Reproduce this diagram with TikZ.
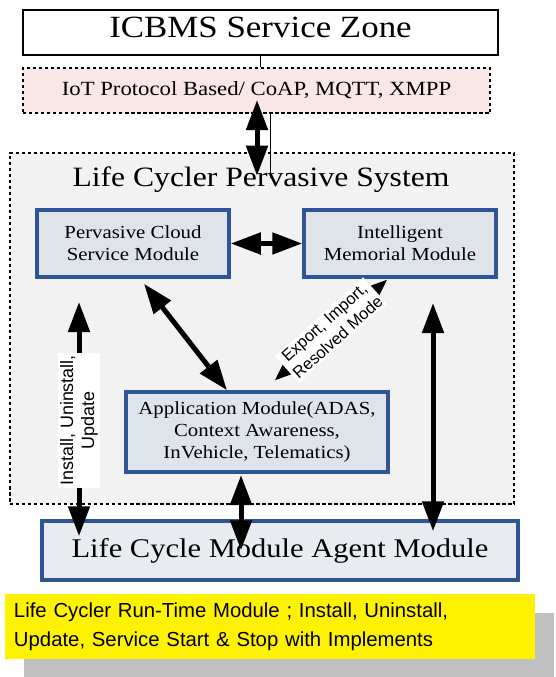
\documentclass[tikz,border=0pt]{standalone}
\usepackage{fontspec}
\setmainfont{Liberation Serif}[FakeStretch=1.13]
\newfontfamily\sans{Liberation Sans}
\usetikzlibrary{arrows.meta,shadows}

% Colori
\definecolor{bordoblu}{HTML}{2F5597}
\definecolor{fondomodulo}{HTML}{DFE4EB}
\definecolor{fondoagente}{HTML}{E8ECF1}
\definecolor{fondosistema}{HTML}{F2F2F2}
\definecolor{rosa}{HTML}{F9E6E6}
\definecolor{ombra}{HTML}{C0C0C0}

\begin{document}
\begin{tikzpicture}[x=1bp, y=-1bp]
	% Stili dei nodi e delle frecce
	\tikzset{
		tratteggio/.style={draw, line width=2.5bp, dash pattern=on 3.5bp off 2.5bp},
		modulo/.style={draw=bordoblu, line width=3.5bp, fill=fondomodulo, inner sep=0pt, align=center, font=\fontsize{18.5}{22}\selectfont},
		freccia/.style={{Triangle[length=30bp,width=21bp]}-{Triangle[length=30bp,width=21bp]}, line width=5bp},
		frecciapiccola/.style={{Triangle[length=18bp,width=14bp]}-{Triangle[length=18bp,width=14bp]}, line width=1.5bp},
		etichetta/.style={fill=white, inner sep=2bp, align=center},
		sottile/.style={line width=0.8bp}
	}
	\useasboundingbox (0,0) rectangle (556,677);
	
	% Zona dei servizi e protocolli
	\node[draw, line width=2.5bp, fill=white, minimum width=475bp, minimum height=45bp, text depth=10bp,
		font=\fontsize{31}{36}\selectfont] (icbms) at (260.5,32.5) {ICBMS Service Zone};
	\node[tratteggio, fill=rosa, minimum width=467bp, minimum height=45bp,
		font=\fontsize{20.2}{24}\selectfont] (iot) at (256.5,90.5) {IoT Protocol Based/ CoAP, MQTT, XMPP};
	
	% Sistema pervasivo
	\node[tratteggio, fill=fondosistema, minimum width=504bp, minimum height=351bp] (sys) at (262,328.5) {};
	\node[anchor=base, font=\fontsize{28.1}{32}\selectfont] (titolo) at (261,186) {Life Cycler Pervasive System};
	
	% Moduli
	\node[modulo, minimum width=192bp, minimum height=67bp] (pcsm) at (133,243.5) {Pervasive Cloud\\Service Module};
	\node[modulo, minimum width=192bp, minimum height=67bp] (imm) at (400,243.5) {Intelligent\\Memorial Module};
	\node[modulo, minimum width=262bp, minimum height=80bp] (app) at (257,432) {Application Module(ADAS,\\Context Awareness,\\InVehicle, Telematics)};
	\node[modulo, fill=fondoagente, minimum width=476bp, minimum height=59bp,
		font=\fontsize{27.1}{32}\selectfont] (lcm) at (280,550.5) {Life Cycle Module Agent Module};
	
	% Nota in basso con ombra
	\node[fill=yellow, drop shadow={shadow xshift=19bp, shadow yshift=-19bp, fill=ombra, opacity=1},
		minimum width=530bp, minimum height=65bp, text width=512bp, align=left, inner xsep=9bp,
		font=\sans\fontsize{20.4}{29}\selectfont] (nota) at (270,626.5)
		{Life Cycler Run-Time Module ; Install, Uninstall,\\Update, Service Start \& Stop with Implements};
	
	% Punti di partenza delle frecce verticali
	\coordinate (tx) at (257,100);
	\coordinate (lx) at (270,178);
	\coordinate (sx) at (79,302);
	\coordinate (cx) at (241,475);
	\coordinate (dx) at (433,303);
	
	% Collegamenti
	\draw[sottile] (icbms.south) -- (icbms.south |- iot.north);
	\draw[sottile] (lx |- iot.south) -- (lx);
	\draw[freccia, shorten >=-24bp] (tx) -- (tx |- sys.north);
	\draw[freccia] (pcsm) -- (imm);
	\draw[freccia] ([xshift=11bp,yshift=-5bp]pcsm.south) -- ([xshift=-30bp]app.north);
	\draw[frecciapiccola] ([xshift=18bp,yshift=10bp]app.north) --
		node[etichetta, sloped, font=\sans\fontsize{16.5}{20}\selectfont] {Export, Import,\\Resolved Mode}
		([xshift=-13bp,yshift=-1bp]imm.south);
	\draw[freccia, shorten >=-17bp] (sx) --
		node[etichetta, rotate=90, pos=0.545, font=\sans\fontsize{18}{21}\selectfont] {Install, Uninstall,\\Update}
		(sx |- lcm.north);
	\draw[freccia, shorten >=-31bp] (cx) -- (cx |- lcm.north);
	\draw[freccia, shorten >=-12bp] (dx) -- (dx |- lcm.north);
\end{tikzpicture}
\end{document}
